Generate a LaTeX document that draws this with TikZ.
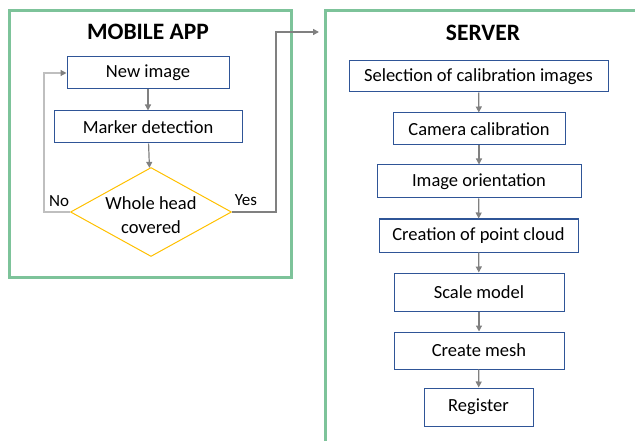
\documentclass[tikz,border=0pt]{standalone}
\usepackage{fontspec}
\setmainfont{Carlito}
\usetikzlibrary{shapes.geometric,arrows.meta}
\definecolor{grn}{HTML}{7DC39A}
\definecolor{bxblue}{HTML}{2F5597}
\definecolor{ylw}{HTML}{FFC000}
\definecolor{arr}{HTML}{808080}
\definecolor{lgr}{HTML}{BFBFBF}
\tikzset{
  stepbox/.style={draw=bxblue, line width=1pt, rectangle, inner sep=0pt, font=\fontsize{18.5}{22}\selectfont},
  panel/.style={draw=grn, line width=3pt},
  title/.style={font=\fontsize{23.5}{27}\selectfont\bfseries, inner sep=0pt},
  lbl/.style={font=\fontsize{17}{20}\selectfont, inner sep=0pt},
  flow/.style={draw=arr, line width=1.2pt, -{Triangle[length=6pt,width=6pt,color=arr]}},
}
\begin{document}
\begin{tikzpicture}[x=1pt,y=-1pt]
\useasboundingbox (0,0) rectangle (635,441);
% panels
\draw[panel] (9,11) rectangle (291,277);
\begin{scope}
\clip (0,0) rectangle (635,441);
\draw[panel] (325,11) rectangle (660,470);
\end{scope}
\node[title] (t1) at (148,32) {MOBILE APP};
\node[title] (t2) at (483,33) {SERVER};
% mobile nodes
\node[stepbox, minimum width=162pt, minimum height=32pt] (new) at (148,73) {New image};
\node[stepbox, minimum width=188pt, minimum height=32pt] (mark) at (148,127) {Marker detection};
\node[draw=ylw, line width=1pt, diamond, minimum width=161pt, minimum height=89pt, inner sep=0pt] (dec) at (151,212) {};
\node[font=\fontsize{18.5}{24}\selectfont, align=center, inner sep=0pt] (dect) at (151,215) {Whole head\\covered};
\node[lbl] (no) at (59,201) {No};
\node[lbl] (yes) at (246,200) {Yes};
\coordinate (nl) at (44,212);
\coordinate (yr) at (276,212);
\coordinate (yt) at (276,32);
\coordinate (tip) at (319,32);
% server nodes
\node[stepbox, minimum width=259pt, minimum height=31pt] (s1) at (478.5,76.5) {Selection of calibration images};
\node[stepbox, minimum width=172pt, minimum height=32pt] (s2) at (479,129) {Camera calibration};
\node[stepbox, minimum width=204pt, minimum height=33pt] (s3) at (479,181.5) {Image orientation};
\node[stepbox, minimum width=199pt, minimum height=33pt] (s4) at (478.5,235.5) {Creation of point cloud};
\node[stepbox, minimum width=170pt, minimum height=38pt] (s5) at (479,292) {Scale model};
\node[stepbox, minimum width=170pt, minimum height=37pt] (s6) at (479,350.5) {Create mesh};
\node[stepbox, minimum width=109pt, minimum height=38pt] (s7) at (478.5,407) {Register};
% connectors
\draw[flow] (new) -- (mark);
\draw[flow] (mark) -- (dec);
\draw[flow, draw=lgr] (dec.west) -- (nl) |- (new.west);
\draw[flow, line width=2pt] (dec.east) -- (yr) -- (yt) -- (tip);
\foreach \a/\b in {s1/s2,s2/s3,s3/s4,s4/s5,s5/s6,s6/s7}
  \draw[flow] (\a) -- (\b);
\end{tikzpicture}
\end{document}
